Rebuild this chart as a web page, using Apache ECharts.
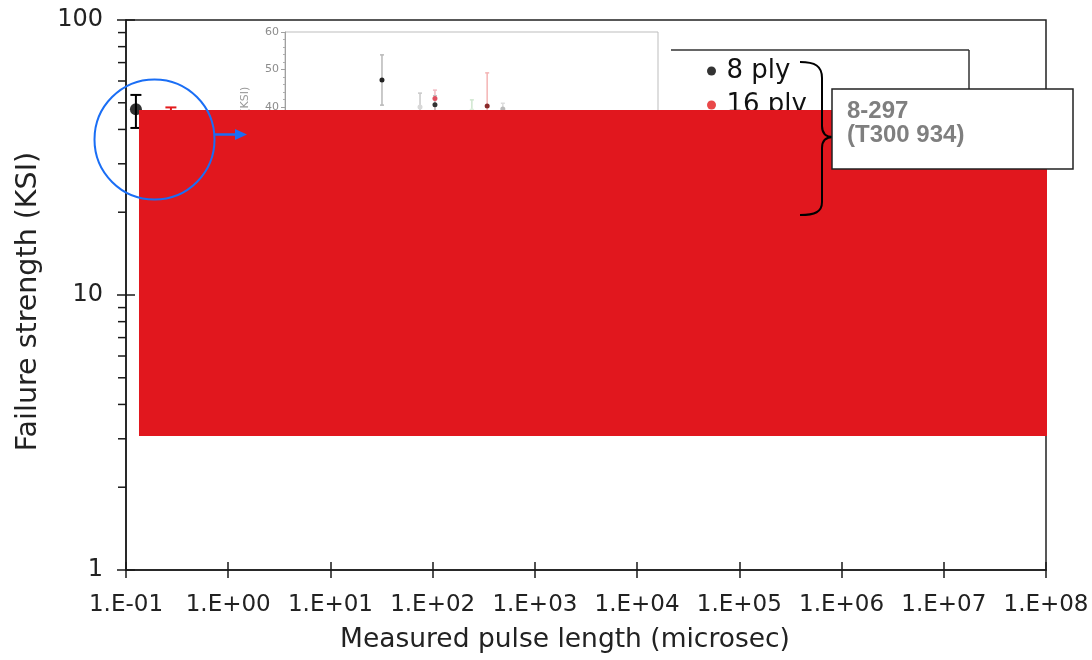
<!DOCTYPE html>
<html>
<head>
<meta charset="utf-8">
<script src="https://cdn.jsdelivr.net/npm/echarts@6/dist/echarts.min.js"></script>
<style>html,body{margin:0;padding:0;background:#fff}#c{width:1092px;height:660px}</style>
</head>
<body>
<div id="c"></div>
<script>
// ---- data ----
const xTickLabels = ['1.E-01','1.E+00','1.E+01','1.E+02','1.E+03','1.E+04','1.E+05','1.E+06','1.E+07','1.E+08'];
const yTickLabels = ['1','10','100'];
const yMinorTicks = [2,3,4,5,6,7,8,9,20,30,40,50,60,70,80,90];
const seriesNames = ['8 ply','16 ply'];
const ply8X = [0.125], ply8Y = [47.4], ply8Low = [40.5], ply8High = [53.4];
const ply16X = [0.275], ply16Y = [44.0], ply16Low = [40.0], ply16High = [48.1];
// shaded band: [xFrom, xTo, yFrom, yTo]
const bandX = [0.134, 1e8];
const bandY = [3.07, 47.1];
// inset (reproduced embedded picture)
const insetX    = [26, 36.2, 40.2, 40.2, 50.1, 54.2, 58.4];
const insetY    = [47.2, 40.0, 42.3, 40.6, 39.0, 40.3, 39.5];
const insetLow  = [40.5, 36.0, 38.0, 37.5, 35.0, 36.0, 37.0];
const insetHigh = [53.9, 43.7, 44.5, 43.0, 41.9, 49.1, 41.0];
const insetBarColor = ['#b8b8b8','#c8c8c8','#f2b8c0','#c0c0c0','#cfe6cf','#f4b4b4','#dddddd'];
const insetDotColor = ['#222222','#d8d8d8','#e05060','#333333','#dcefdc','#8a2a2a','#bbbbbb'];
const annotationLines = ['8-297', '(T300 934)'];

const FONT = 'DejaVu Sans';
const chart = echarts.init(document.getElementById('c'));

function errorBar(color, capHalf, width) {
  return function (params, api) {
    const x = api.value(0);
    const lo = api.coord([x, api.value(1)]);
    const hi = api.coord([x, api.value(2)]);
    const st = { stroke: color, lineWidth: width };
    return { type: 'group', children: [
      { type: 'line', shape: { x1: lo[0], y1: lo[1], x2: hi[0], y2: hi[1] }, style: st },
      { type: 'line', shape: { x1: lo[0]-capHalf, y1: lo[1], x2: lo[0]+capHalf, y2: lo[1] }, style: st },
      { type: 'line', shape: { x1: hi[0]-capHalf, y1: hi[1], x2: hi[0]+capHalf, y2: hi[1] }, style: st }
    ]};
  };
}

const logX = { type: 'log', logBase: 10, min: 0.1, max: 1e8, interval: 1, gridIndex: 0, position: 'bottom', splitLine: { show: false } };
const logY = { type: 'log', logBase: 10, min: 1, max: 100, interval: 1, gridIndex: 0, position: 'left', splitLine: { show: false } };

const braceStyle = { stroke: '#000', lineWidth: 2, fill: null };
const blue = '#1a6ef5';

const option = {
  backgroundColor: '#fff',
  animation: false,
  grid: [
    { left: 126, top: 20, right: 46, bottom: 90, show: true, borderColor: '#222', borderWidth: 1.5 },
    { left: 285, top: 32, width: 373, height: 225, show: true, borderColor: '#bdbdbd', borderWidth: 1 }
  ],
  xAxis: [
    Object.assign({}, logX, {
      axisLine: { lineStyle: { color: '#1a1a1a', width: 1.5 } },
      axisTick: { length: 8, lineStyle: { color: '#1a1a1a', width: 1.5 } },
      axisLabel: { fontFamily: FONT, fontSize: 23, color: '#222', margin: 24,
        formatter: v => xTickLabels[Math.round(Math.log10(v)) + 1] },
      name: 'Measured pulse length (microsec)', nameLocation: 'middle', nameGap: 57,
      nameTextStyle: { fontFamily: FONT, fontSize: 26.5, color: '#222', padding: [0, 42, 0, 0] }
    }),
    Object.assign({}, logX, {
      axisLine: { show: false },
      axisTick: { inside: true, length: 8, lineStyle: { color: '#1a1a1a', width: 1.5 } },
      axisLabel: { show: false }
    }),
    { type: 'value', gridIndex: 1, min: 0, max: 100, show: false }
  ],
  yAxis: [
    Object.assign({}, logY, {
      axisLine: { show: true, lineStyle: { color: '#1a1a1a', width: 1.5 } },
      axisTick: { show: true, length: 9, lineStyle: { color: '#1a1a1a', width: 1.5 } },
      axisLabel: { fontFamily: FONT, fontSize: 24, color: '#222', margin: 23,
        formatter: v => yTickLabels[Math.round(Math.log10(v))] },
      name: 'Failure strength (KSI)', nameLocation: 'middle', nameGap: 83,
      nameTextStyle: { fontFamily: FONT, fontSize: 28.5, color: '#222', padding: [0, 13, 0, 0] }
    }),
    Object.assign({}, logY, {
      axisLine: { show: false },
      axisTick: { show: true, inside: true, length: 9, lineStyle: { color: '#1a1a1a', width: 1.5 } },
      axisLabel: { show: false }
    }),
    { type: 'value', gridIndex: 1, min: 0, max: 60, interval: 10, position: 'left',
      axisLine: { show: true, lineStyle: { color: '#a0a0a0', width: 1 } },
      axisTick: { show: true, length: 4, lineStyle: { color: '#a0a0a0' } },
      minorTick: { show: true, splitNumber: 5, length: 2, lineStyle: { color: '#b0b0b0' } },
      axisLabel: { fontFamily: FONT, fontSize: 11, color: '#8c8c8c', margin: 6 },
      splitLine: { show: false },
      name: 'Failure strength (KSI)', nameLocation: 'middle', nameGap: 34,
      nameTextStyle: { fontFamily: FONT, fontSize: 11, color: '#9a9a9a' }
    }
  ],
  legend: {
    data: seriesNames, orient: 'vertical', left: 702, top: 53, z: 1,
    itemWidth: 20, itemHeight: 9, itemGap: 8, icon: 'circle',
    textStyle: { fontFamily: FONT, fontSize: 26, lineHeight: 25, color: '#111' }
  },
  series: [
    { type: 'custom', xAxisIndex: 2, yAxisIndex: 2, z: 1, silent: true,
      data: insetX.map((x, i) => [x, insetLow[i], insetHigh[i], i]),
      renderItem: (params, api) => errorBar(insetBarColor[api.value(3)], 2, 1.5)(params, api) },
    { type: 'custom', xAxisIndex: 2, yAxisIndex: 2, z: 1, silent: true,
      data: insetX.map((x, i) => [x, insetY[i], i]),
      renderItem: (params, api) => {
        const p = api.coord([api.value(0), api.value(1)]);
        return { type: 'circle', shape: { cx: p[0], cy: p[1], r: 2.5 }, style: { fill: insetDotColor[api.value(2)] } };
      } },
    { type: 'custom', xAxisIndex: 0, yAxisIndex: 0, z: 2, silent: true,
      data: yMinorTicks.map(v => [0.1, v]),
      renderItem: (params, api) => {
        const p = api.coord([api.value(0), api.value(1)]);
        return { type: 'line', shape: { x1: p[0]-8, y1: p[1], x2: p[0], y2: p[1] }, style: { stroke: '#1a1a1a', lineWidth: 1.5 } };
      } },
    { type: 'custom', xAxisIndex: 0, yAxisIndex: 0, z: 2, silent: true,
      data: ply8X.map((x, i) => [x, ply8Low[i], ply8High[i]]),
      renderItem: errorBar('#000', 5.5, 2) },
    { type: 'custom', xAxisIndex: 0, yAxisIndex: 0, z: 2, silent: true,
      data: ply16X.map((x, i) => [x, ply16Low[i], ply16High[i]]),
      renderItem: errorBar('#e31a1c', 5.5, 2) },
    { name: seriesNames[0], type: 'scatter', xAxisIndex: 0, yAxisIndex: 0, z: 2,
      symbolSize: 12, itemStyle: { color: '#000' },
      data: ply8X.map((x, i) => [x, ply8Y[i]]) },
    { name: seriesNames[1], type: 'scatter', xAxisIndex: 0, yAxisIndex: 0, z: 2,
      symbolSize: 12, itemStyle: { color: '#e31a1c' },
      data: ply16X.map((x, i) => [x, ply16Y[i]]) },
    { type: 'custom', xAxisIndex: 0, yAxisIndex: 0, z: 5, silent: true,
      data: [[bandX[0], bandX[1], bandY[0], bandY[1]]],
      renderItem: (params, api) => {
        const p0 = api.coord([api.value(0), api.value(3)]);
        const p1 = api.coord([api.value(1), api.value(2)]);
        return { type: 'rect', shape: { x: p0[0], y: p0[1], width: p1[0]-p0[0] + 1, height: p1[1]-p0[1] },
                 style: { fill: '#e1171e' } };
      } }
  ],
  graphic: [
    { type: 'line', z: 1, shape: { x1: 671, y1: 50, x2: 969, y2: 50 }, style: { stroke: '#333', lineWidth: 1.5 } },
    { type: 'line', z: 1, shape: { x1: 969, y1: 50, x2: 969, y2: 110 }, style: { stroke: '#333', lineWidth: 1.5 } },
    // brace
    { type: 'bezierCurve', z: 100, shape: { x1: 800, y1: 62, cpx1: 815, cpy1: 62, cpx2: 822, cpy2: 66, x2: 822, y2: 78 }, style: braceStyle },
    { type: 'line', z: 100, shape: { x1: 822, y1: 78, x2: 822, y2: 126 }, style: braceStyle },
    { type: 'bezierCurve', z: 100, shape: { x1: 822, y1: 126, cpx1: 822, cpy1: 133, cpx2: 826, cpy2: 137, x2: 833, y2: 137 }, style: braceStyle },
    { type: 'bezierCurve', z: 100, shape: { x1: 833, y1: 137, cpx1: 826, cpy1: 137, cpx2: 822, cpy2: 141, x2: 822, y2: 148 }, style: braceStyle },
    { type: 'line', z: 100, shape: { x1: 822, y1: 148, x2: 822, y2: 202 }, style: braceStyle },
    { type: 'bezierCurve', z: 100, shape: { x1: 822, y1: 202, cpx1: 822, cpy1: 212, cpx2: 815, cpy2: 215, x2: 800, y2: 215 }, style: braceStyle },
    // annotation box
    { type: 'rect', z: 100, shape: { x: 832, y: 89, width: 241, height: 80 }, style: { fill: '#fff', stroke: '#222', lineWidth: 1.5 } },
    { type: 'text', z: 101, style: { text: annotationLines[0], x: 847, y: 111, verticalAlign: 'middle',
      font: 'bold 24px "Liberation Sans", Arial, sans-serif', fill: '#7f7f7f' } },
    { type: 'text', z: 101, style: { text: annotationLines[1], x: 847, y: 135, verticalAlign: 'middle',
      font: 'bold 24px "Liberation Sans", Arial, sans-serif', fill: '#7f7f7f' } },
    // blue circle and arrow
    { type: 'circle', z: 100, shape: { cx: 154.5, cy: 139.5, r: 60 }, style: { fill: null, stroke: blue, lineWidth: 2 } },
    { type: 'line', z: 100, shape: { x1: 214, y1: 134.5, x2: 237, y2: 134.5 }, style: { stroke: blue, lineWidth: 2.5 } },
    { type: 'polygon', z: 100, shape: { points: [[235, 129], [247, 134.5], [235, 140]] }, style: { fill: blue } }
  ]
};
chart.setOption(option);
</script>
</body>
</html>
